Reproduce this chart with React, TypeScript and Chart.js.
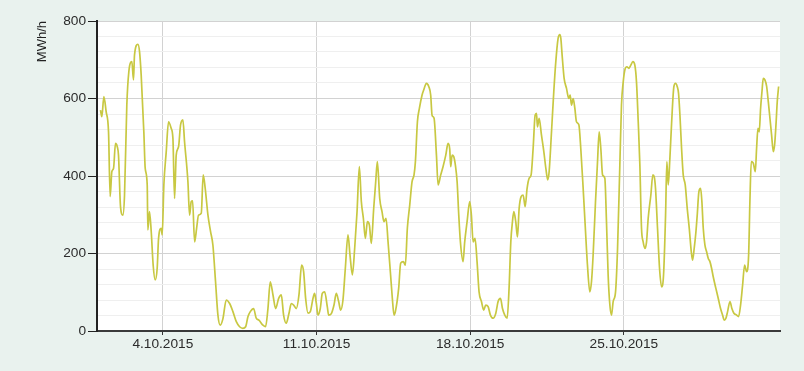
import { useEffect, useRef } from "react";
import { Chart, registerables } from "chart.js";
Chart.register(...registerables);

// hours since 1.10.2015 00:00
const HOURS = [
  3.8, 5.3, 7.5, 10.0, 12.6, 14.4, 16.2, 18.1, 20.2, 22.1, 23.5, 25.7, 28.3, 30.1, 32.6, 34.8, 38.1, 39.9, 41.0, 44.7,
  46.5, 48.3, 51.2, 52.7, 54.9, 55.6, 57.4, 59.3, 61.4, 63.6, 65.8, 67.3, 70.2, 71.3, 73.1, 75.7, 78.2, 81.1, 83.0, 84.8,
  86.6, 89.2, 91.3, 93.9, 95.7, 99.4, 101.2, 103.0, 104.5, 106.7, 108.9, 111.0, 114.0, 116.1, 118.3, 121.3, 124.2,
  126.7, 129.6, 132.2, 134.7, 137.7, 141.3, 145.0, 148.6, 152.3, 155.9, 159.5, 162.5, 165.0, 167.6, 171.2, 174.1, 177.0,
  181.4, 184.3, 186.9, 189.4, 192.4, 195.3, 198.6, 201.5, 204.0, 206.9, 209.9, 212.4, 215.0, 217.9, 220.8, 223.7, 225.9,
  228.1, 230.7, 233.2, 236.1, 237.9, 239.8, 241.6, 244.1, 246.3, 248.9,
  251.8, 253.3, 256.2, 259.1, 261.6, 264.2, 266.4, 268.9, 271.5, 274.4, 276.6, 279.2, 281.7, 284.3, 286.8, 289.0, 291.2,
  293.4, 295.6, 297.8, 299.9, 302.5, 304.7, 306.5, 309.1, 311.6, 313.8, 316.0, 318.2, 320.7, 322.9, 324.7, 326.2, 329.8,
  332.0, 334.9, 337.1, 339.3, 341.9, 344.4, 346.6, 348.1, 350.3, 352.5, 355.4, 357.2, 360.1, 362.7, 364.8, 366.3, 368.5,
  371.1, 372.9, 375.8, 378.3, 381.3,
  383.8, 385.6, 386.7, 388.2, 390.0, 391.8, 393.7, 395.5, 397.3, 400.2, 402.0, 404.6, 407.5, 409.3, 411.2, 413.3, 415.5,
  417.7, 420.3, 422.8, 425.0, 427.6, 430.1, 433.0, 436.0, 438.5, 441.1, 443.3, 445.8, 448.4, 450.5, 452.4, 454.2, 455.7,
  457.8, 459.7, 461.5, 463.7, 465.9, 468.1, 470.2, 472.4, 474.6, 476.8, 479.0, 480.5, 481.5, 483.4, 485.9, 488.5, 490.7,
  492.8, 494.3, 496.9, 499.4, 501.6, 504.1, 506.0,
  507.1, 508.5, 510.7, 513.3, 515.8, 517.3, 518.7, 520.6, 522.4, 524.2, 526.8, 528.9, 531.5, 534.1, 536.2, 538.8, 540.6,
  542.4, 545.0, 547.2, 549.0, 550.8, 552.7, 555.2, 557.0, 558.8, 560.7, 562.5, 564.3, 566.9, 569.1, 571.6, 573.4, 575.3,
  577.1, 579.3, 581.5, 583.6, 585.8, 588.0, 589.8, 591.7, 593.5, 595.3, 597.1, 599.0, 600.8, 602.6, 605.5, 607.7, 609.2,
  610.6, 612.8, 615.0, 617.2, 619.4, 621.6, 623.0, 624.5, 626.3, 628.1,
  630.7, 632.5, 634.3, 635.8, 637.3, 639.1, 640.9, 643.1, 645.3, 647.5, 649.7, 651.1, 652.9, 654.8, 656.2, 658.0, 659.9,
  661.3, 662.8, 664.6, 666.4, 668.3, 670.1, 671.9, 673.7, 676.6, 679.2, 681.7, 683.9, 685.8, 687.6, 689.4, 692.0, 694.1,
  696.3, 699.3, 701.4, 703.6, 705.8, 708.0, 710.2, 712.4, 713.8, 715.3, 717.5, 719.7, 721.1, 722.6, 724.0, 725.5, 727.0,
  728.4, 730.2, 732.1, 733.9, 735.7, 737.5, 739.4, 740.8, 742.3, 743.7, 745.2,
];

const MWH = [
  570, 553, 605, 566, 514, 347, 411, 420, 484, 476, 454, 321, 299, 351, 583, 669, 695, 648, 712, 740,
  721, 661, 514, 420, 377, 261, 308, 256, 170, 132, 162, 239, 265, 248, 377, 463, 540, 523, 497, 342,
  454, 476, 531, 545, 489, 385, 299, 334, 336, 230, 265, 299, 304, 403, 368, 299, 256,
  222, 127, 41, 15, 32, 80, 71, 50, 24, 11, 7, 11, 37, 50, 58, 33, 28,
  15, 11, 58, 127, 93, 58, 84, 93, 41, 20, 46, 71, 67, 58, 93, 170, 153,
  84, 46, 50, 84, 97, 71, 41, 58, 97, 101,
  62, 41, 45, 67, 97, 76, 54, 80, 162, 248, 196, 145, 213, 308, 424, 334, 291,
  239, 282, 273, 226, 316, 385, 437, 342, 308, 282, 291, 230, 153, 84, 41, 50, 110,
  175, 179, 170, 265, 325, 385, 403, 437, 540, 575, 609, 622, 639, 631, 609, 557, 549,
  454, 377, 403, 424, 454,
  484, 470, 424, 454, 450, 428, 385, 299, 230, 179, 230, 282, 334, 299, 230, 239, 179,
  101, 76, 54, 67, 63, 41, 33, 46, 76, 84, 58, 41, 33, 110, 230, 282, 308,
  282, 243, 316, 347, 351, 321, 368, 394, 403, 471, 557, 562, 527, 549, 506, 463, 420,
  390, 411, 514, 618, 695, 755, 765,
  755, 712, 652, 626, 600, 609, 583, 600, 575, 540, 532, 471, 368, 256, 170, 101, 127,
  196, 334, 437, 514, 471, 403, 394, 282, 145, 67, 41, 76, 101, 213, 428, 583, 643,
  674, 682, 678, 686, 695, 686, 643, 540, 428, 265, 230, 213, 230, 291, 351, 403, 398,
  368, 265, 162, 114, 145, 299, 437, 377, 445, 532,
  631, 639, 631, 613, 557, 471, 403, 377, 316, 265, 205, 183, 213, 256, 299, 359, 368,
  334, 265, 222, 205, 187, 179, 162, 140, 110, 84, 58, 41, 28, 33, 50, 76, 58,
  46, 41, 37, 67, 118, 170, 153, 196, 334, 437, 433, 411, 471, 523, 514, 575, 618,
  652, 648, 631, 592, 549, 506, 463, 480, 532, 592, 631,
];

const TICK_HOURS = [72, 240, 408, 576];
const TICK_LABELS = ["4.10.2015", "11.10.2015", "18.10.2015", "25.10.2015"];
const Y_MAJOR = [0, 200, 400, 600, 800];
const Y_TITLE = "MWh/h";

const FONT = { family: "'Liberation Sans', Arial, sans-serif", size: 13.7 };

export default function App() {
  const ref = useRef<HTMLCanvasElement | null>(null);

  useEffect(() => {
    if (!ref.current) return;
    const plotBg = {
      id: "plotBg",
      beforeDraw(chart: any) {
        const { ctx, chartArea: a } = chart;
        ctx.save();
        ctx.fillStyle = "#ffffff";
        ctx.fillRect(a.left, a.top, a.right - a.left, a.bottom - a.top);
        ctx.restore();
      },
    };
    const isMajor = (v: number) => Y_MAJOR.indexOf(v) >= 0;
    const chart = new Chart(ref.current, {
      type: "line",
      data: {
        datasets: [
          {
            data: HOURS.map((h, i) => ({ x: h, y: MWH[i] })),
            borderColor: "#c8c842",
            borderWidth: 1.7,
            pointRadius: 0,
            cubicInterpolationMode: "monotone",
            fill: false,
          },
        ],
      },
      options: {
        responsive: false,
        animation: false,
        events: [],
        layout: { padding: { top: 21, right: 24, left: 0, bottom: 0 } },
        plugins: { legend: { display: false }, tooltip: { enabled: false } },
        scales: {
          x: {
            type: "linear",
            min: 0,
            max: 746.7,
            afterBuildTicks: (s: any) => {
              s.ticks = TICK_HOURS.map((v) => ({ value: v }));
            },
            afterFit: (s: any) => {
              s.height = 40;
            },
            ticks: {
              autoSkip: false,
              maxRotation: 0,
              padding: 1,
              color: "#2b2b2b",
              font: FONT,
              callback: (v: any) => {
                const i = TICK_HOURS.indexOf(Number(v));
                return i >= 0 ? TICK_LABELS[i] : "";
              },
            },
            grid: { color: "#d2d2d2", lineWidth: 1, tickLength: 4, tickColor: "#333333" },
            border: { color: "#3a3a3a", width: 2 },
          },
          y: {
            min: 0,
            max: 800,
            afterFit: (s: any) => {
              s.width = 97;
            },
            ticks: {
              stepSize: 40,
              autoSkip: false,
              padding: 2,
              color: "#2b2b2b",
              font: FONT,
              callback: (v: any) => (isMajor(Number(v)) ? String(v) : ""),
            },
            grid: {
              color: (c: any) => (c.tick && isMajor(c.tick.value) ? "#d2d2d2" : "#efefef"),
              tickColor: (c: any) => (c.tick && isMajor(c.tick.value) ? "#222222" : "rgba(0,0,0,0)"),
              tickLength: 9,
              lineWidth: 1,
            },
            border: { color: "#222222", width: 2 },
            title: {
              display: true,
              text: Y_TITLE,
              align: "end",
              color: "#222222",
              font: { family: FONT.family, size: 13 },
              padding: { top: 35, bottom: 0 },
            },
          },
        },
      },
      plugins: [plotBg],
    } as any);
    return () => chart.destroy();
  }, []);

  return (
    <div style={{ position: "fixed", inset: 0, background: "#e9f2ee" }}>
      <canvas ref={ref} width={804} height={371} style={{ display: "block", width: 804, height: 371 }} />
    </div>
  );
}
